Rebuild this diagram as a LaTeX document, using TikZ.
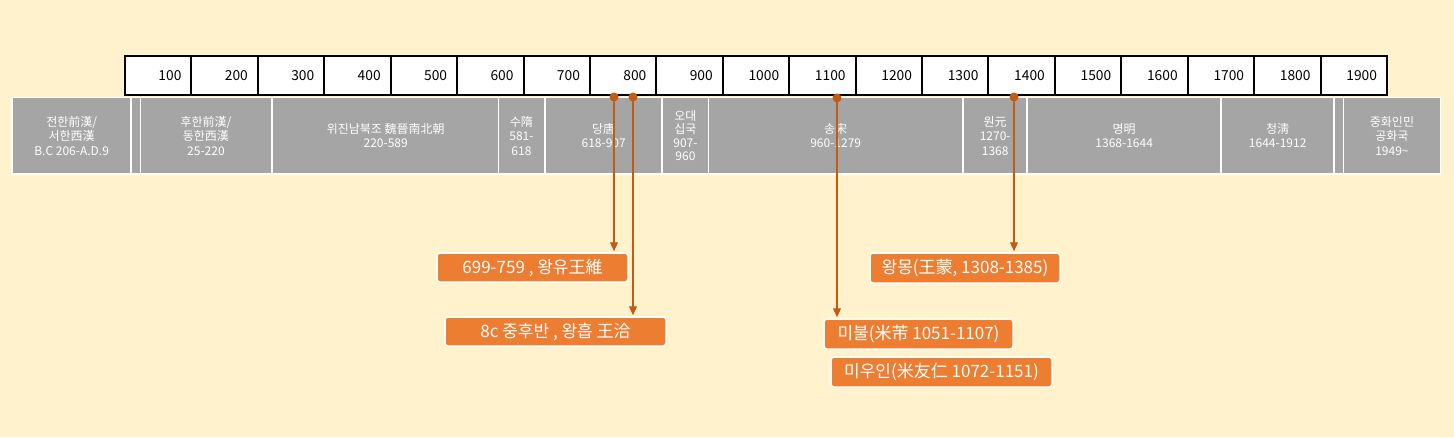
\documentclass[tikz,border=0pt]{standalone}
\usepackage{fontspec}
\newfontfamily\cjk{Noto Sans CJK KR}
\usetikzlibrary{arrows.meta,calc}
\definecolor{bgc}{RGB}{255,242,204}
\definecolor{dyng}{RGB}{165,165,165}
\definecolor{orbox}{RGB}{237,125,49}
\definecolor{orline}{RGB}{197,90,17}
\tikzset{
  yr/.style={draw=black, line width=2pt, fill=white, anchor=north west,
    minimum width=66.42pt, minimum height=39pt, text width=46.4pt, inner xsep=10pt,
    align=right, font=\cjk\fontsize{13.8}{15}\selectfont},
  dyn/.style={fill=dyng, anchor=north west, inner sep=0pt, minimum height=75pt,
    text=white, align=center, font=\cjk\fontsize{12}{14.5}\selectfont},
  ebox/.style={fill=orbox, draw=white, line width=1.5pt, rounded corners=3pt,
    text=white, inner sep=0pt, minimum height=29pt, font=\cjk\fontsize{17}{19}\selectfont},
  conn/.style={draw=orline, line width=1.2pt, -{Triangle[length=9pt,width=8pt]}},
  dot/.style={circle, fill=orline, inner sep=0pt, minimum size=9pt},
}
\begin{document}
\begin{tikzpicture}[x=1pt,y=-1pt]
\fill[bgc] (0,0) rectangle (1454,437);
\useasboundingbox (0,0) rectangle (1454,437);
% year bar
\foreach \i in {1,...,19}{
  \node[yr] (y\i) at ({124+(\i-1)*66.42},55) {\number\numexpr\i*100\relax};
}
% dynasty bar
\fill[white] (11,96.5) rectangle (1441,174.5);
\node[dyn, minimum width=117.5pt] (d1) at (12.7,98) {전한前漢/\\서한西漢\\B.C 206-A.D.9};
\node[dyn, minimum width=7.5pt] (d2) at (132,98) {};
\node[dyn, minimum width=130.5pt] (d3) at (140.5,98) {후한前漢/\\동한西漢\\25-220};
\node[dyn, minimum width=225pt] (d4) at (273,98) {위진남북조 魏晉南北朝\\220-589};
\node[dyn, minimum width=44.5pt] (d5) at (499,98) {수隋\\581-\\618};
\node[dyn, minimum width=115pt] (d6) at (546,98) {당唐\\618-907};
\node[dyn, minimum width=44.5pt, font=\cjk\fontsize{12}{13.5}\selectfont] (d7) at (663,98) {오대\\십국\\907-\\960};
\node[dyn, minimum width=253pt] (d8) at (709,98) {송宋\\960-1279};
\node[dyn, minimum width=62pt] (d9) at (964,98) {원元\\1270-\\1368};
\node[dyn, minimum width=192pt] (d10) at (1028,98) {명明\\1368-1644};
\node[dyn, minimum width=111pt] (d11) at (1222,98) {청淸\\1644-1912};
\node[dyn, minimum width=7.5pt] (d12) at (1335,98) {};
\node[dyn, minimum width=95.5pt] (d13) at (1344,98) {중화인민\\공화국\\1949\textasciitilde};
% event boxes
\node[ebox, minimum width=191pt] (b1) at (532.5,267.5) {699-759 , 왕유王維};
\node[ebox, minimum width=221pt] (b2) at (555.5,331.5) {8c 중후반 , 왕흡 王洽};
\node[ebox, minimum width=190pt, minimum height=30pt] (b3) at (965,268) {왕몽(王蒙, 1308-1385)};
\node[ebox, minimum width=189pt, minimum height=30pt] (b4) at (918.5,334) {미불(米芾 1051-1107)};
\node[ebox, minimum width=221pt, minimum height=30pt] (b5) at (941.5,372) {미우인(米友仁 1072-1151)};
% connectors
\coordinate (p1) at (614,97);
\coordinate (p2) at (633,97);
\coordinate (p3) at (837,98);
\coordinate (p4) at (1014,97);
\draw[conn] (p1) -- ($(p1 |- b1.north)+(0,-1)$);
\draw[conn] (p2) -- ($(p2 |- b2.north)+(0,-1)$);
\draw[conn] (p3) -- ($(p3 |- b4.north)+(0,-1)$);
\draw[conn] (p4) -- ($(p4 |- b3.north)+(0,-1)$);
\node[dot] (c1) at (p1) {};
\node[dot] (c2) at (p2) {};
\node[dot] (c3) at (p3) {};
\node[dot] (c4) at (p4) {};
\end{tikzpicture}
\end{document}
